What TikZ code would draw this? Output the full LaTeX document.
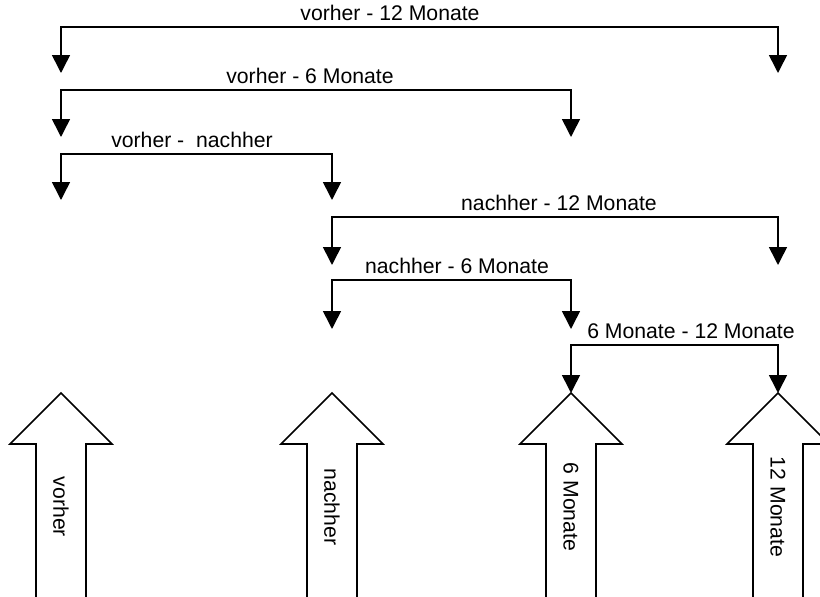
\documentclass[tikz,border=0pt]{standalone}
\usepackage{fontspec}
\setmainfont{Liberation Sans}
\usetikzlibrary{arrows.meta,calc}

\begin{document}
\begin{tikzpicture}[x=1pt,y=-1pt,line width=1.6pt,
    klammer/.style={{Triangle[width=18pt,length=18pt]}-{Triangle[width=18pt,length=18pt]},line join=miter},
    schrift/.style={font=\fontsize{21.2}{25}\selectfont}]
  \useasboundingbox (0,0) rectangle (820,597);
  \clip (0,0) rectangle (820,597);
  % Spalten
  \coordinate (vor) at (61,0);
  \coordinate (nach) at (332,0);
  \coordinate (sechs) at (571,0);
  \coordinate (zwoelf) at (778,0);
  % grosse Pfeile
  \foreach\n/\t in {vor/vorher,nach/nachher,sechs/6 Monate,zwoelf/12 Monate} {
    \draw[line join=miter] ($(\n)+(-25,600)$) -- ($(\n)+(-25,444)$) -- ($(\n)+(-51,444)$)
      -- ($(\n)+(0,393)$) -- ($(\n)+(51,444)$) -- ($(\n)+(25,444)$) -- ($(\n)+(25,600)$);
    \node[schrift,rotate=-90] (t\n) at ($(\n)+(0,507)$) {\t};
  }
  % Vergleiche
  \foreach\a/\b/\h/\s/\lx/\l in {vor/zwoelf/27/73/390/vorher - 12 Monate,
      vor/sechs/90/137/310/vorher - 6 Monate,
      vor/nach/154/200/192/vorher -~ nachher,
      nach/zwoelf/217/265/559/nachher - 12 Monate,
      nach/sechs/280/329/457/nachher - 6 Monate,
      sechs/zwoelf/345/393/691/6 Monate - 12 Monate} {
    \draw[klammer] (\a |- 0,\s) |- (\b |- 0,\h) -- (\b |- 0,\s);
    \node[schrift,anchor=base] (l\a\b) at (\lx,\h-7) {\l};
  }
\end{tikzpicture}
\end{document}
